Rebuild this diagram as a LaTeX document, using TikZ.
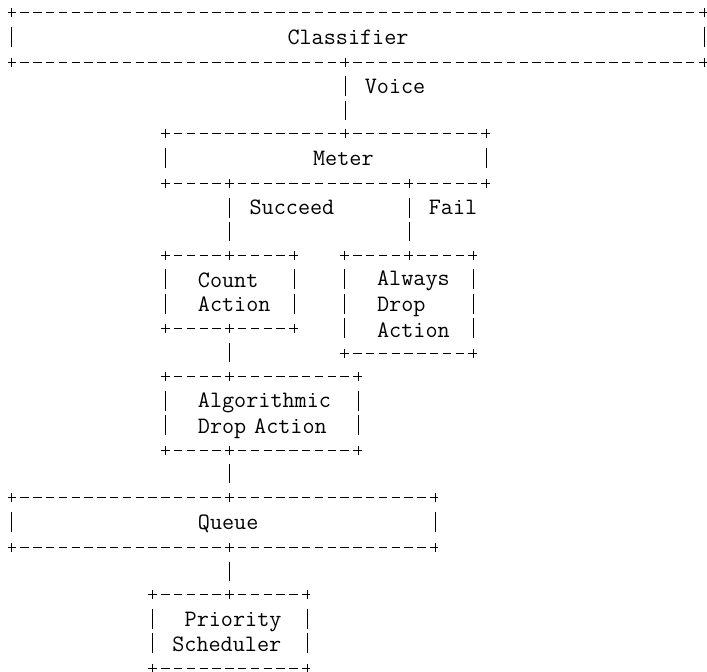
\documentclass[tikz,border=0pt]{standalone}
\usepackage{fontspec}
\newcommand\asciifont{\ttfamily\fontsize{23.5}{24.26}\selectfont}
\newcommand\lnstrut{\rule[-4.83pt]{0pt}{24.26pt}}
\begin{document}
\begin{tikzpicture}[x=12.8pt, y=-24.26pt, line width=1pt,
    box/.style={rectangle, inner sep=0pt, align=left, font=\asciifont},
    lbl/.style={inner sep=0pt, anchor=base west, font=\asciifont},
    hbar/.style={dash pattern=on 8.4pt off 4.4pt, shorten <=-4.2pt, shorten >=-4.2pt},
    vbar/.style={dash pattern=on 20pt off 4.26pt, shorten <=14.26pt, shorten >=14.26pt}]
    \useasboundingbox (-0.961,-0.536) rectangle (54.27,27.16);

    % --- boxes (one column = 12.8pt, one row = 24.26pt) ---
    \node[box, minimum width=691.2pt, minimum height=48.52pt, text width=140.8pt] (cls) at (27,1) {\lnstrut Classifier};
    \node[box, minimum width=320pt, minimum height=48.52pt, text width=25.6pt] (meter) at (24.5,6) {\lnstrut Meter};
    \node[box, minimum width=128pt, minimum height=72.78pt, text width=64pt] (count) at (17,11.5) {\lnstrut Count\\\lnstrut Action};
    \node[box, minimum width=128pt, minimum height=97.04pt, text width=64pt] (always) at (31,12) {\lnstrut Always\\\lnstrut Drop\\\lnstrut Action};
    \node[box, minimum width=192pt, minimum height=72.78pt, text width=128pt] (algo) at (19.5,16.5) {\lnstrut Algorithmic\\\lnstrut Drop~Action};
    \node[box, minimum width=422.4pt, minimum height=48.52pt, text width=51.2pt] (queue) at (16.5,21) {\lnstrut Queue};
    \node[box, minimum width=153.6pt, minimum height=72.78pt, text width=115.2pt] (prio) at (17,25.5) {\lnstrut\hspace*{.525em}Priority\\\lnstrut Scheduler};

    % --- borders drawn as ascii dashes and bars ---
    \foreach \b in {cls,meter,count,always,algo,queue,prio} {
        \draw[hbar] (\b.north west) -- (\b.north east);
        \draw[hbar] (\b.south west) -- (\b.south east);
        \draw[vbar] (\b.north west) -- (\b.south west);
        \draw[vbar] (\b.north east) -- (\b.south east);
        \foreach \a in {north west,north east,south west,south east}
            \draw ([yshift=4.5pt]\b.\a) -- ([yshift=-4.5pt]\b.\a);
    }

    % --- connectors ---
    \foreach \from/\to/\col in {cls/meter/26, meter/count/17, meter/always/31, count/algo/17, algo/queue/17, queue/prio/17} {
        \coordinate (top) at (\from.south -| \col,0);
        \coordinate (bot) at (\to.north -| \col,0);
        \draw[vbar] (top) -- (bot);
        \draw ([yshift=4.5pt]top) -- ([yshift=-4.5pt]top);
        \draw ([yshift=4.5pt]bot) -- ([yshift=-4.5pt]bot);
    }

    % --- labels ---
    \node[lbl] (voice) at (27.5,3.3) {Voice};
    \node[lbl] (succeed) at (18.5,8.3) {Succeed};
    \node[lbl] (fail) at (32.5,8.3) {Fail};
\end{tikzpicture}
\end{document}
